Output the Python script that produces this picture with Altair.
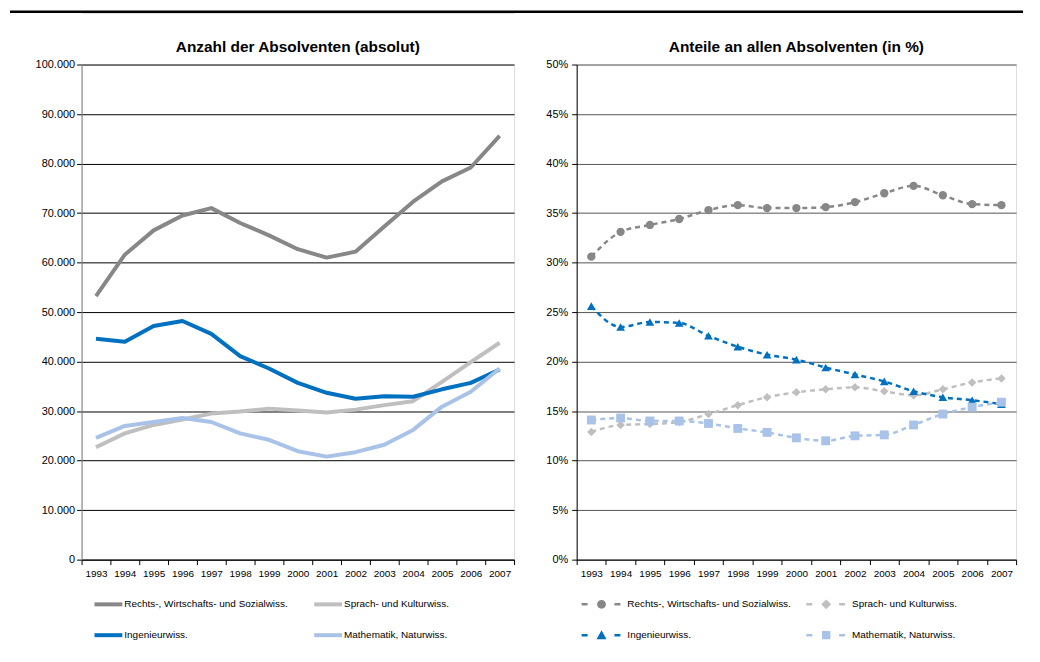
import altair as alt
import pandas as pd

years = list(range(1993, 2008))
groups = ["Rechts-, Wirtschafts- und Sozialwiss.", "Sprach- und Kulturwiss.",
          "Ingenieurwiss.", "Mathematik, Naturwiss."]
colors = ["#878787", "#bfbfbf", "#0070c0", "#a9c3e8"]

abs_rechts = [53200, 61600, 66500, 69500, 71000, 68000, 65500, 62700, 61000, 62200, 67300, 72300, 76400, 79200, 85600]
abs_sprach = [22700, 25500, 27200, 28300, 29500, 29900, 30500, 30100, 29700, 30300, 31200, 32000, 35900, 39900, 43800]
abs_ing = [44600, 44000, 47200, 48200, 45600, 41100, 38600, 35700, 33700, 32500, 33000, 32900, 34400, 35700, 38400]
abs_math = [24600, 27000, 27800, 28600, 27800, 25500, 24200, 21900, 20800, 21700, 23200, 26200, 30900, 33900, 38600]

pct_rechts = [30.6, 33.1, 33.8, 34.4, 35.3, 35.8, 35.5, 35.5, 35.6, 36.1, 37.0, 37.75, 36.8, 35.9, 35.8]
pct_sprach = [12.9, 13.6, 13.7, 13.9, 14.7, 15.6, 16.4, 16.9, 17.2, 17.4, 17.0, 16.6, 17.2, 17.9, 18.3]
pct_ing = [25.6, 23.5, 24.0, 23.9, 22.6, 21.5, 20.7, 20.2, 19.4, 18.7, 18.0, 17.0, 16.4, 16.1, 15.7]
pct_math = [14.1, 14.3, 14.0, 14.0, 13.75, 13.25, 12.85, 12.3, 12.0, 12.5, 12.6, 13.6, 14.7, 15.4, 15.9]

abs_ticks = list(range(0, 100001, 10000))
pct_ticks = list(range(0, 51, 5))

FONT = "Liberation Sans"


def make_df(series):
    rows = []
    for gi, (g, vals) in enumerate(zip(groups, series)):
        for y, v in zip(years, vals):
            rows.append({"Jahr": y, "Gruppe": g, "Wert": v, "gi": gi})
    return pd.DataFrame(rows)


df_abs = make_df([abs_rechts, abs_sprach, abs_ing, abs_math])
df_pct = make_df([pct_rechts, pct_sprach, pct_ing, pct_math])

x_scale = alt.Scale(domain=[years[0] - 0.5, years[-1] + 0.5], nice=False, zero=False)
x_vals = [y - 0.5 for y in years] + [years[-1] + 0.5]


def x_axis(off):
    return alt.Axis(values=x_vals,
                    labelExpr=f"datum.value > {years[-1]} ? '' : format(datum.value + 0.5, 'd')",
                    labelOffset=off, grid=False, tickSize=5, tickColor="#000",
                    domainColor="#000", labelPadding=4, labelFontSize=10,
                    labelFlush=False, labelOverlap=False, title=None, labelAngle=0,
                    labelColor="#000", labelFont=FONT)


def legend(lx, ly, loff, cpad):
    return alt.Legend(orient="none", legendX=lx, legendY=ly, columns=2,
                      direction="horizontal", symbolSize=400, symbolStrokeWidth=0,
                      labelFontSize=10, labelFont=FONT, labelColor="#000",
                      labelOffset=loff, columnPadding=cpad, rowPadding=16,
                      title=None, padding=0, labelLimit=0)


W_L, W_R, H = 435, 442, 498

# ---------- left chart ----------
y_l = alt.Y("Wert:Q", scale=alt.Scale(domain=[0, 100000], nice=False),
            axis=alt.Axis(values=abs_ticks,
                          labelExpr="replace(format(datum.value, ',d'), ',', '.')",
                          grid=True, gridColor="#000", gridWidth=1,
                          domainColor="#808080", tickColor="#000", tickSize=5,
                          labelPadding=2, labelFontSize=11, labelColor="#000",
                          labelFont=FONT, minExtent=72, maxExtent=72, title=None))
x_l = alt.X("Jahr:Q", scale=x_scale, axis=x_axis(W_L / 15 / 2))

base_l = alt.Chart(df_abs)
l_lines = base_l.mark_line(strokeWidth=4, strokeJoin="round").encode(
    x=x_l, y=y_l,
    color=alt.Color("Gruppe:N", scale=alt.Scale(domain=groups, range=colors), legend=None),
    order=alt.Order("gi:Q"),
)
bar_path = "M-1.4,-0.2H1.4V0.2H-1.4Z"
l_leg = base_l.transform_calculate(Leg="datum.Gruppe").transform_filter("false").mark_point(
    filled=True, opacity=1, size=400).encode(
    x=x_l, y=y_l,
    color=alt.Color("Leg:N", scale=alt.Scale(domain=groups, range=colors),
                    legend=legend(17, 533, 6, 26)),
    shape=alt.Shape("Leg:N", scale=alt.Scale(domain=groups, range=[bar_path] * 4),
                    legend=legend(17, 533, 6, 26)),
)

left = alt.layer(l_lines, l_leg).resolve_scale(
    color="independent", shape="independent").properties(
    width=W_L, height=H,
    title=alt.TitleParams("Anzahl der Absolventen (absolut)", fontSize=15.5,
                          fontWeight="bold", font=FONT, offset=3,
                          anchor="middle", color="#000"))

# ---------- right chart ----------
shapes = ["circle", "diamond", "triangle-up", "square"]
sizes = [70, 80, 110, 75]
dash = "M-2,-0.125H-1.4V0.125H-2Z M1.3,-0.125H1.9V0.125H1.3Z "
leg_paths = [
    dash + "M-0.45,0A0.45,0.45 0 1,0 0.45,0A0.45,0.45 0 1,0 -0.45,0Z",
    dash + "M0,-0.5L0.5,0L0,0.5L-0.5,0Z",
    dash + "M0,-0.5L0.5,0.4L-0.5,0.4Z",
    dash + "M-0.42,-0.42H0.42V0.42H-0.42Z",
]

y_r = alt.Y("Wert:Q", scale=alt.Scale(domain=[0, 50], nice=False),
            axis=alt.Axis(values=pct_ticks, labelExpr="datum.value + '%'",
                          grid=True, gridColor="#555", gridWidth=1,
                          domainColor="#000", tickColor="#000", tickSize=5,
                          labelPadding=4, labelFontSize=11, labelColor="#000",
                          labelFont=FONT, minExtent=40, maxExtent=40, title=None))
x_r = alt.X("Jahr:Q", scale=x_scale, axis=x_axis(W_R / 15 / 2))

base_r = alt.Chart(df_pct)
r_lines = base_r.mark_line(strokeWidth=2.5, strokeDash=[5, 4], interpolate="monotone").encode(
    x=x_r, y=y_r,
    color=alt.Color("Gruppe:N", scale=alt.Scale(domain=groups, range=colors), legend=None),
    order=alt.Order("gi:Q"),
)
r_points = base_r.mark_point(filled=True, opacity=1).encode(
    x=x_r, y=y_r,
    color=alt.Color("Gruppe:N", scale=alt.Scale(domain=groups, range=colors), legend=None),
    shape=alt.Shape("Gruppe:N", scale=alt.Scale(domain=groups, range=shapes), legend=None),
    size=alt.Size("Gruppe:N", scale=alt.Scale(domain=groups, range=sizes), legend=None),
)
r_leg = base_r.transform_calculate(Leg="datum.Gruppe").transform_filter("false").mark_point(
    filled=True, opacity=1, size=400).encode(
    x=x_r, y=y_r,
    color=alt.Color("Leg:N", scale=alt.Scale(domain=groups, range=colors),
                    legend=legend(15, 533, 16, 15)),
    shape=alt.Shape("Leg:N", scale=alt.Scale(domain=groups, range=leg_paths),
                    legend=legend(15, 533, 16, 15)),
)

right = alt.layer(r_lines, r_points, r_leg).resolve_scale(
    color="independent", shape="independent").properties(
    width=W_R, height=H,
    title=alt.TitleParams("Anteile an allen Absolventen (in %)", fontSize=15.5,
                          fontWeight="bold", font=FONT, offset=3,
                          anchor="middle", color="#000"))

# ---------- top rule (decorative page line) ----------
top = alt.Chart(pd.DataFrame({"a": [0]})).mark_rule(color="#000", strokeWidth=2.5).encode(
    x=alt.value(-72), x2=alt.value(947), y=alt.value(0)).properties(width=W_L, height=1)

row = alt.HConcatChart(hconcat=[left, right], spacing=63, bounds="flush")
chart = alt.VConcatChart(vconcat=[top, row], spacing=52, bounds="flush").properties(
    padding={"left": 0, "top": 0, "right": 0, "bottom": 0}).configure_view(
    strokeWidth=0).configure(font=FONT)

chart.save("out.html", embed_options={"renderer": "svg", "actions": False})
